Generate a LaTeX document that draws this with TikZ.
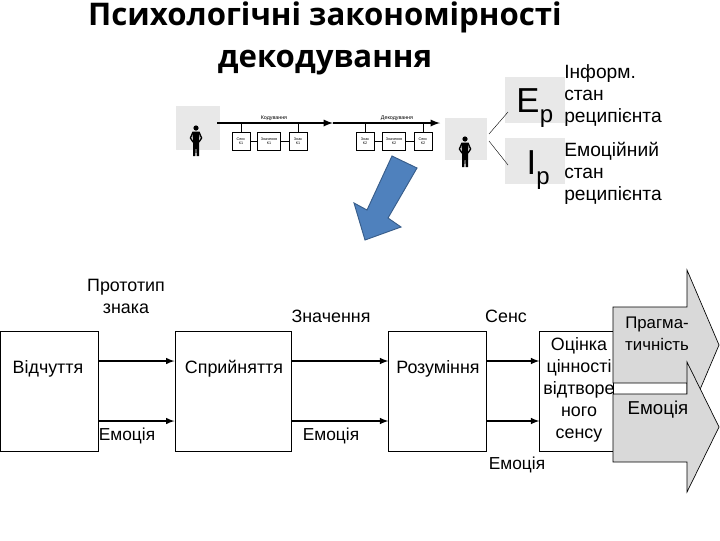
\documentclass[tikz,border=0pt]{standalone}
\usepackage{fontspec}
\setmainfont{Liberation Sans}
\newfontfamily\titlefont{Open Sans}
\definecolor{patchgray}{gray}{0.91}
\definecolor{arrowgray}{gray}{0.85}
\definecolor{bluefill}{HTML}{4F81BD}
\definecolor{blueedge}{HTML}{385D8A}
\tikzset{
  txt/.style={inner sep=0pt,align=center,font=\fontsize{13.4}{16.5}\selectfont},
  emotxt/.style={inner sep=0pt,font=\fontsize{13}{16.5}\selectfont},
  sidetxt/.style={inner sep=0pt,align=left,anchor=west,font=\fontsize{14.4}{16.5}\selectfont},
  stagebox/.style={draw,fill=white,inner sep=0pt,minimum height=90pt,line width=0.7pt},
  tinybox/.style={draw,fill=white,inner sep=0pt,minimum height=13.5pt,line width=0.5pt,align=center,font=\fontsize{2.8}{3.4}\selectfont},
  tinytxt/.style={inner sep=0pt,font=\fontsize{4}{5}\selectfont},
  patch/.style={fill=patchgray,inner sep=0pt},
  flow/.style={-latex,line width=1.2pt},
  bigarrow/.style={draw=black,fill=arrowgray,line width=0.5pt}
}
\newcommand{\personfig}[2]{
\fill (#1,#2+3) circle[radius=2.6];
\fill (#1-3.5,#2+6.5) -- (#1+3.5,#2+6.5) -- (#1+3,#2+18) -- (#1+3,#2+31) -- (#1+0.7,#2+31) -- (#1,#2+20) -- (#1-0.7,#2+31) -- (#1-3,#2+31) -- (#1-3,#2+18) -- cycle;
\draw[line width=1pt] (#1-3,#2+7) -- (#1-5.6,#2+13) -- (#1-3,#2+17);
\draw[line width=1pt] (#1+3,#2+7) -- (#1+5.6,#2+13) -- (#1+3,#2+17);
}
\begin{document}
\begin{tikzpicture}[x=0.75pt,y=-0.75pt]
\useasboundingbox (0,0) rectangle (720,540);
% title
\node[inner sep=0pt,align=center,font=\titlefont\bfseries\fontsize{23.4}{31.5}\selectfont] (title) at (325,38) {Психологічні закономірності\\декодування};
% grey patches
\node[patch,minimum width=33pt,minimum height=33pt] (patchL) at (198,128) {};
\node[patch,minimum width=32pt,minimum height=32pt] (patchR) at (466,139) {};
\node[patch,minimum width=45pt,minimum height=34pt] (patchE) at (535,100) {};
\node[patch,minimum width=45pt,minimum height=35pt] (patchI) at (535,161) {};
% coding line
\coordinate (codestart) at (217,123);
\coordinate (codemid) at (333,123);
\coordinate (decoend) at (440,123);
\draw[-latex,line width=1.4pt] (codestart) -- (codemid);
\draw[-latex,line width=1.4pt] (codemid) -- (decoend);
\node[tinytxt] (codelab) at (274,118) {Кодування};
\node[tinytxt] (decolab) at (397,118) {Декодування};
\node[tinybox,minimum width=13.5pt] (sens1) at (241,141) {Сенс\\К1};
\node[tinybox,minimum width=17.5pt] (mean1) at (269,141) {Значення\\К1};
\node[tinybox,minimum width=13.5pt] (sign1) at (298,141) {Знак\\К1};
\node[tinybox,minimum width=13.5pt] (sign2) at (365,141) {Знак\\К2};
\node[tinybox,minimum width=17.5pt] (mean2) at (394,141) {Значення\\К2};
\node[tinybox,minimum width=13.5pt] (sens2) at (423,141) {Сенс\\К2};
\draw[line width=0.4pt] (sens1) -- (mean1);
\draw[line width=0.4pt] (mean1) -- (sign1);
\draw[line width=0.4pt] (sign2) -- (mean2);
\draw[line width=0.4pt] (mean2) -- (sens2);
\draw[line width=0.4pt] (sens1.north) -- (sens1.north |- codestart);
\draw[line width=0.4pt] (sign1.north) -- (sign1.north |- codestart);
\draw[line width=0.4pt] (sign2.north) -- (sign2.north |- codestart);
\draw[line width=0.4pt] (sens2.north) -- (sens2.north |- codestart);
\personfig{196}{125}
\personfig{465}{136}
% recipient states
\coordinate (forktop) at (489,134);
\coordinate (forkbot) at (489,141);
\coordinate (forkE) at (508,112);
\coordinate (forkI) at (508,165);
\draw[line width=0.3pt] (forktop) -- (forkE);
\draw[line width=0.3pt] (forkbot) -- (forkI);
\node[inner sep=0pt,font=\fontsize{26}{26}\selectfont] (Elab) at (528,100.5) {E};
\node[inner sep=0pt,font=\fontsize{18}{18}\selectfont] (Esub) at (546.5,118.5) {p};
\node[inner sep=0pt,font=\fontsize{26}{26}\selectfont] (Ilab) at (531.5,162.5) {I};
\node[inner sep=0pt,font=\fontsize{18}{18}\selectfont] (Isub) at (543,181) {p};
\node[sidetxt] (infostate) at (564,96) {Інформ.\\стан\\реципієнта};
\node[sidetxt] (emostate) at (564,173) {Емоційний\\стан\\реципієнта};
% blue arrow
\draw[fill=bluefill,draw=blueedge,line width=0.7pt] (392,156) -- (417,168) -- (388,218) -- (401,227) -- (365,240) -- (354,203) -- (367,210) -- cycle;
% stages
\node[stagebox,minimum width=73.5pt] (vidch) at (49,391) {};
\node[stagebox,minimum width=87pt] (spryin) at (233,391) {};
\node[stagebox,minimum width=73pt] (rozum) at (437.5,391) {};
\node[stagebox,minimum width=55pt] (ocinka) at (576.5,391) {};
\draw[flow] ([yshift=22.5pt]vidch.east) -- ([yshift=22.5pt]spryin.west);
\draw[flow] ([yshift=-22.5pt]vidch.east) -- ([yshift=-22.5pt]spryin.west);
\draw[flow] ([yshift=22.5pt]spryin.east) -- ([yshift=22.5pt]rozum.west);
\draw[flow] ([yshift=-22.5pt]spryin.east) -- ([yshift=-22.5pt]rozum.west);
\draw[flow] ([yshift=22.5pt]rozum.east) -- ([yshift=22.5pt]ocinka.west);
\draw[flow] ([yshift=-22.5pt]rozum.east) -- ([yshift=-22.5pt]ocinka.west);
% grey arrows
\draw[bigarrow] (613,307) -- (687,307) -- (687,270) -- (719,345) -- (687,420) -- (687,383) -- (613,383) -- cycle;
\draw[bigarrow] (613,394) -- (687,394) -- (687,362) -- (719,427) -- (687,492) -- (687,462) -- (613,462) -- cycle;
% labels
\node[txt] (proto) at (126,296) {Прототип\\знака};
\node[txt] (meaning) at (331,316) {Значення};
\node[txt] (sense) at (506,316) {Сенс};
\node[txt] (vidchlab) at (48,369) {Відчуття};
\node[txt] (spryinlab) at (234,369) {Сприйняття};
\node[txt] (rozumlab) at (438,369) {Розуміння};
\node[emotxt] (emo1) at (127,436) {Емоція};
\node[emotxt] (emo2) at (331,436) {Емоція};
\node[emotxt] (emo3) at (517,465) {Емоція};
\node[txt] (ocinkalab) at (579,390) {Оцінка\\цінності\\відтворе\\ного\\сенсу};
\node[txt,font=\fontsize{12.6}{16.5}\selectfont] (pragm) at (657,334) {Прагма-\\тичність};
\node[emotxt,font=\fontsize{14}{16.5}\selectfont] (emo4) at (658,410) {Емоція};
\end{tikzpicture}
\end{document}
